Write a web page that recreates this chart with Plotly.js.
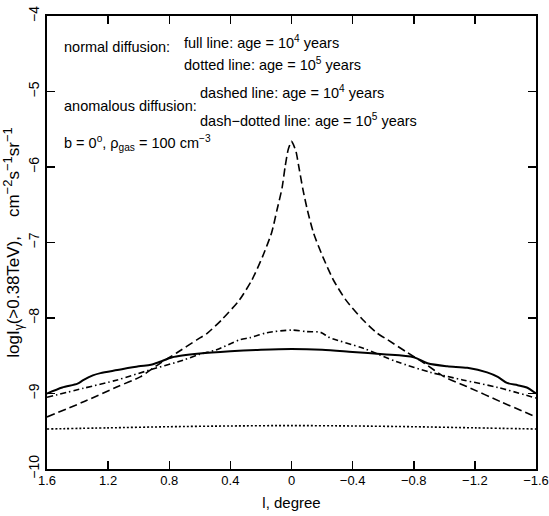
<!DOCTYPE html>
<html>
<head>
<meta charset="utf-8">
<script src="https://cdn.plot.ly/plotly-3.0.1.min.js"></script>
<style>html,body{margin:0;padding:0;background:#fff;}#chart{width:549px;height:516px;}</style>
</head>
<body>
<div id="chart"></div>
<script>
// Galactic longitude (degree) and log10 intensity values
const lonFull = [1.6, 1.5, 1.4, 1.36, 1.3, 1.25, 1.14, 1.0, 0.92, 0.86, 0.78, 0.6, 0.4, 0.2, 0, -0.2, -0.4, -0.6, -0.8, -0.89, -1.02, -1.15, -1.28, -1.35, -1.41, -1.48, -1.54, -1.6];
const intFull = [-9.0, -8.92, -8.87, -8.82, -8.76, -8.73, -8.69, -8.64, -8.62, -8.58, -8.52, -8.47, -8.44, -8.42, -8.41, -8.42, -8.45, -8.48, -8.52, -8.60, -8.64, -8.66, -8.72, -8.78, -8.86, -8.89, -8.92, -9.0];

const lonDotted = [1.6, 1.2, 0.8, 0.4, 0, -0.4, -0.8, -1.2, -1.6];
const intDotted = [-9.47, -9.455, -9.44, -9.43, -9.425, -9.43, -9.44, -9.455, -9.47];

const lonDashed = [1.6, 1.36, 1.14, 0.99, 0.86, 0.75, 0.62, 0.55, 0.46, 0.34, 0.26, 0.19, 0.13, 0.095, 0.062, 0.042, 0.023, 0.01, 0, -0.012, -0.03, -0.05, -0.075, -0.105, -0.145, -0.205, -0.275, -0.355, -0.47, -0.56, -0.63, -0.76, -0.87, -1.0, -1.15, -1.37, -1.6];
const intDashed = [-9.31, -9.11, -8.91, -8.78, -8.60, -8.46, -8.29, -8.20, -8.03, -7.76, -7.50, -7.19, -6.87, -6.57, -6.28, -6.0, -5.78, -5.70, -5.66, -5.70, -5.80, -6.02, -6.30, -6.58, -6.88, -7.19, -7.50, -7.76, -8.03, -8.20, -8.29, -8.46, -8.60, -8.78, -8.91, -9.11, -9.31];

const lonDashDot = [1.6, 1.36, 1.14, 0.93, 0.71, 0.6, 0.49, 0.34, 0.27, 0.16, 0, -0.1, -0.19, -0.25, -0.47, -0.69, -0.91, -1.12, -1.35, -1.6];
const intDashDot = [-9.05, -8.93, -8.82, -8.69, -8.56, -8.48, -8.42, -8.29, -8.26, -8.195, -8.16, -8.18, -8.19, -8.26, -8.40, -8.58, -8.72, -8.82, -8.92, -9.06];

const xTickVals = [1.6, 1.2, 0.8, 0.4, 0, -0.4, -0.8, -1.2, -1.6];
const xTickText = ['1.6', '1.2', '0.8', '0.4', '0', '\u22120.4', '\u22120.8', '\u22121.2', '\u22121.6'];
const yTickVals = [-10, -9, -8, -7, -6, -5, -4];
const yTickText = ['\u221210', '\u22129', '\u22128', '\u22127', '\u22126', '\u22125', '\u22124'];

const FONT = 'Liberation Sans, Arial, sans-serif';

const traces = [
  {x: lonFull, y: intFull, mode: 'lines', name: 'normal, 10^4 yr',
   line: {color: '#000', width: 2, shape: 'spline', smoothing: 0.8}},
  {x: lonDotted, y: intDotted, mode: 'lines', name: 'normal, 10^5 yr',
   line: {color: '#000', width: 1.6, dash: '2px,2px', shape: 'spline', smoothing: 0.8}},
  {x: lonDashed, y: intDashed, mode: 'lines', name: 'anomalous, 10^4 yr',
   line: {color: '#000', width: 1.6, dash: '8px,4px', shape: 'spline', smoothing: 0.6}},
  {x: lonDashDot, y: intDashDot, mode: 'lines', name: 'anomalous, 10^5 yr',
   line: {color: '#000', width: 1.6, dash: '6px,3px,1.5px,3px', shape: 'spline', smoothing: 0.8}}
];

function px(xp) { return (xp - 47) / 489; }
function py(yp) { return (469 - yp) / 453; }

const annFont = {family: FONT, size: 14.5, color: '#000'};
const annotations = [
  {text: 'normal diffusion:', x: px(62), y: py(47), xanchor: 'left', yanchor: 'middle'},
  {text: 'full line: age = 10<sup>4</sup> years', x: px(182), y: py(42), xanchor: 'left', yanchor: 'middle'},
  {text: 'dotted line: age = 10<sup>5</sup> years', x: px(182), y: py(64), xanchor: 'left', yanchor: 'middle'},
  {text: 'anomalous diffusion:', x: px(62), y: py(106), xanchor: 'left', yanchor: 'middle'},
  {text: 'dashed line: age = 10<sup>4</sup> years', x: px(198), y: py(92), xanchor: 'left', yanchor: 'middle'},
  {text: 'dash\u2212dotted line: age = 10<sup>5</sup> years', x: px(198), y: py(120), xanchor: 'left', yanchor: 'middle'},
  {text: 'b = 0<sup>o</sup>, \u03c1<sub>gas</sub> = 100 cm<sup>\u22123</sup>', x: px(62), y: py(143), xanchor: 'left', yanchor: 'middle'}
].map(a => Object.assign({xref: 'paper', yref: 'paper', showarrow: false, font: annFont}, a));

const SUP = s => '<sup><span style="font-size:13px">' + s + '</span></sup>';
const yTitle = 'logI<sub>\u03b3</sub>(&gt;0.38TeV),\u00a0\u00a0\u00a0 cm' + SUP('\u22122') + 's' + SUP('\u22121') + 'sr' + SUP('\u22121') + '\u00a0\u00a0\u00a0\u00a0\u00a0';

const layout = {
  width: 549, height: 516,
  margin: {l: 47, r: 13, t: 16, b: 47, pad: 0},
  paper_bgcolor: '#fff', plot_bgcolor: '#fff',
  showlegend: false,
  font: {family: FONT, color: '#000'},
  xaxis: {
    range: [1.6, -1.6], tickmode: 'array', tickvals: xTickVals, ticktext: xTickText,
    ticks: 'inside', ticklen: 8, tickwidth: 1.5, tickcolor: '#000',
    showline: true, linewidth: 2, linecolor: '#000', mirror: 'ticks',
    showgrid: false, zeroline: false, ticklabeloverflow: 'allow',
    ticklabelstandoff: -2,
    tickfont: {family: FONT, size: 13, color: '#000'},
    title: {text: 'l, degree', font: {family: FONT, size: 15, color: '#000'}, standoff: 11},
    automargin: false
  },
  yaxis: {
    range: [-10, -4], tickmode: 'array', tickvals: yTickVals, ticktext: yTickText,
    ticks: 'inside', ticklen: 8, tickwidth: 1.5, tickcolor: '#000', tickangle: -90,
    showline: true, linewidth: 2, linecolor: '#000', mirror: 'ticks',
    showgrid: false, zeroline: false, ticklabeloverflow: 'allow',
    tickfont: {family: FONT, size: 14, color: '#000'},
    title: {text: yTitle, font: {family: FONT, size: 17, color: '#000'}, standoff: 6},
    automargin: false
  },
  annotations: annotations
};

Plotly.newPlot('chart', traces, layout, {displayModeBar: false, staticPlot: true});
</script>
</body>
</html>
